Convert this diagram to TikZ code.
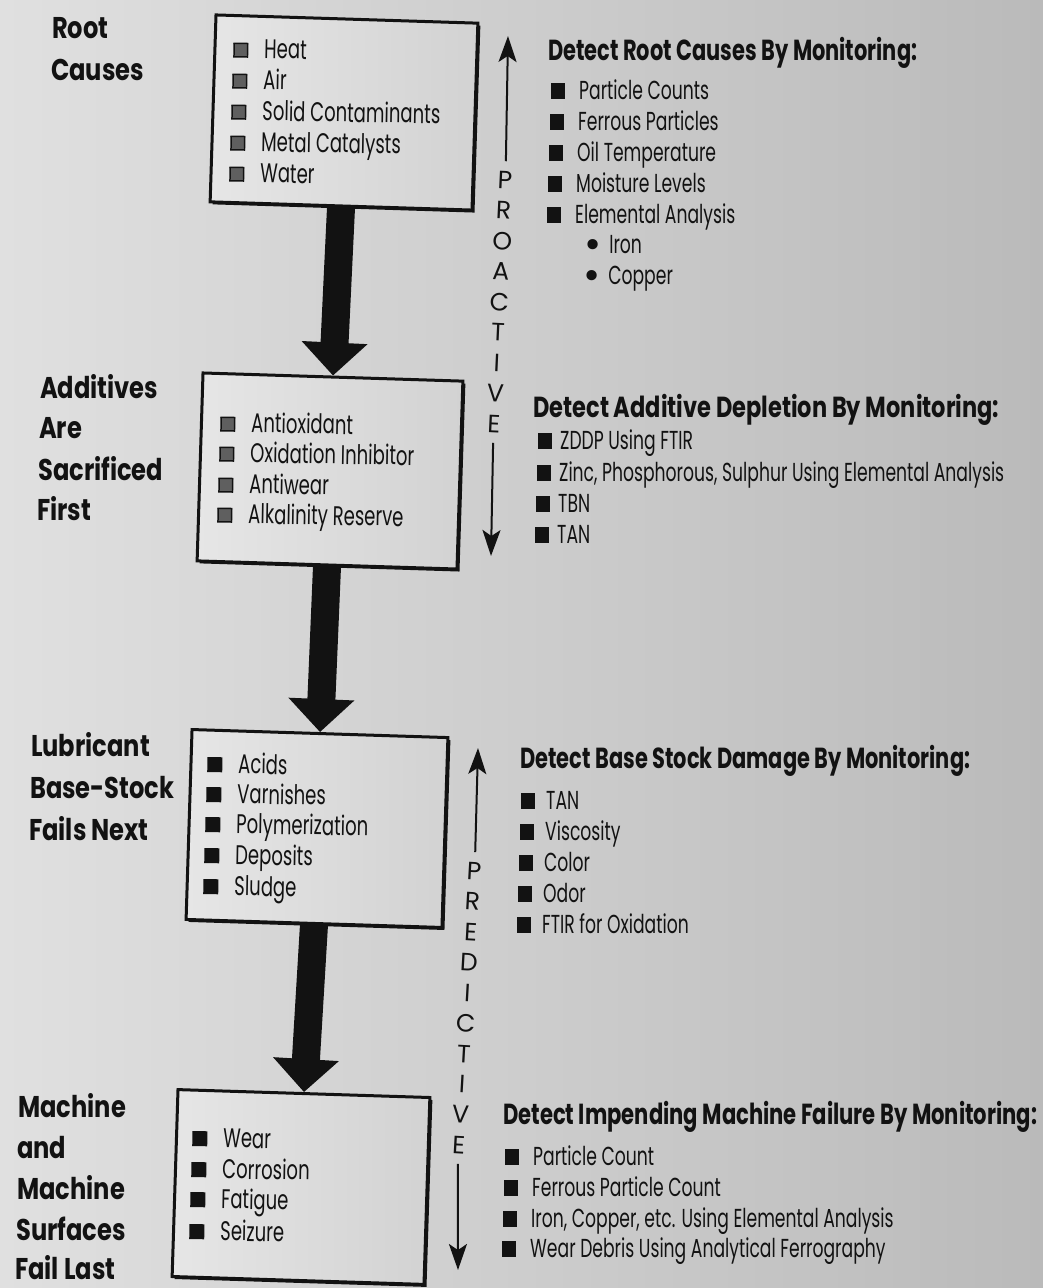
\documentclass[tikz,border=0pt]{standalone}
\usepackage{fontspec}
\usetikzlibrary{arrows.meta,shadows}
\newfontfamily\pop{Poppins}
\definecolor{bgL}{RGB}{224,224,224}
\definecolor{bgR}{RGB}{186,186,186}
\definecolor{boxL}{RGB}{230,230,230}
\definecolor{boxR}{RGB}{210,210,210}
\definecolor{sqgray}{RGB}{95,95,95}
\definecolor{ink}{RGB}{18,18,18}
\pgfdeclarelayer{back}
\pgfdeclarelayer{bg}
\pgfsetlayers{back,bg,main}
\setlength\fboxsep{0pt}
\setlength\fboxrule{1.5pt}
\newsavebox\fitbox
\newlength\fitlen
\newcommand\fitfactor[3]{\sbox\fitbox{#3}\setlength\fitlen{\wd\fitbox}\pgfmathsetmacro#1{#2/\fitlen}}
\newcommand\sqGray{\raisebox{2pt}{\fcolorbox{ink}{sqgray}{\rule{0pt}{12pt}\rule{12pt}{0pt}}}}
\newcommand\sqDark{\raisebox{1pt}{\textcolor{ink}{\rule{15pt}{15pt}}}}
\newcommand\sqRight{\textcolor{ink}{\rule{14pt}{16pt}}}
\newcommand\bigdot{\smash{\raisebox{-5pt}{\scalebox{1.6}{\textbullet}}}}
\newcommand\ttlfont{\pop\bfseries\fontsize{29}{34}\selectfont}
\newcommand\ritfont{\pop\fontsize{26}{30}\selectfont}
\begin{document}
\fitfactor{\fLab}{125}{\pop\bfseries\fontsize{30}{36}\selectfont Sacrificed}%
\fitfactor{\fTa}{369}{\ttlfont Detect Root Causes By Monitoring:}%
\fitfactor{\fTb}{466}{\ttlfont Detect Additive Depletion By Monitoring:}%
\fitfactor{\fTc}{450}{\ttlfont Detect Base Stock Damage By Monitoring:}%
\fitfactor{\fTd}{534}{\ttlfont Detect Impending Machine Failure By Monitoring:}%
\fitfactor{\fBox}{178}{\pop\fontsize{27}{30}\selectfont Solid Contaminants}%
\fitfactor{\fRit}{445}{\ritfont Zinc, Phosphorous, Sulphur Using Elemental Analysis}%
\begin{tikzpicture}[x=1pt,y=-1pt,
  lab/.style={anchor=base west, inner sep=0pt, text=ink, font=\pop\bfseries\fontsize{30}{36}\selectfont},
  ttl/.style={anchor=base west, inner sep=0pt, text=ink, font=\ttlfont},
  bitem/.style={anchor=base west, inner sep=0pt, text=ink, font=\pop\fontsize{27}{30}\selectfont, rotate=-1},
  ritem/.style={anchor=base west, inner sep=0pt, text=ink, font=\ritfont},
  stagebox/.style={draw=ink, line width=3pt, left color=boxL, right color=boxR, inner sep=0pt, rotate=-1.8,
    drop shadow={shadow xshift=2.5pt, shadow yshift=-2.5pt, fill=ink, opacity=1}},
  fat/.style={draw=ink, line width=28pt, -{Triangle[width=64pt,length=33pt]}},
  thinarr/.style={draw=ink, line width=2pt, -{Stealth[length=26pt,width=18pt,inset=6pt]}},
  vlet/.style={font=\pop\fontsize{25}{30.5}\selectfont, text=ink, align=center, inner xsep=2pt, inner ysep=10pt}]

\begin{pgfonlayer}{back}
\shade[left color=bgL, right color=bgR] (0,0) rectangle (1043,1288);
\end{pgfonlayer}
\useasboundingbox (0,0) rectangle (1043,1288);

% left labels
\foreach \t/\x/\y [count=\i] in {Root/52/38, Causes/51/80}
  \node[lab] (la\i) at (\x,\y) {\scalebox{\fLab}[1]{\t}};
\foreach \t/\x/\y [count=\i] in {Additives/40/398, Are/39/438, Sacrificed/38/480, First/37/520}
  \node[lab] (lb\i) at (\x,\y) {\scalebox{\fLab}[1]{\t}};
\foreach \t/\x/\y [count=\i] in {Lubricant/31/756, Base-Stock/30/798, Fails Next/29/840}
  \node[lab] (lc\i) at (\x,\y) {\scalebox{\fLab}[1]{\t}};
\foreach \t/\x/\y [count=\i] in {Machine/18/1117, and/17/1158, Machine/17/1199, Surfaces/16/1240, Fail Last/15/1279}
  \node[lab] (ld\i) at (\x,\y) {\scalebox{\fLab}[1]{\t}};

% stage boxes
\node[stagebox, minimum width=262pt, minimum height=187pt] (b1) at (344,112.5) {};
\node[stagebox, minimum width=260pt, minimum height=188pt] (b2) at (330,471) {};
\node[stagebox, minimum width=256pt, minimum height=190pt] (b3) at (317,828.5) {};
\node[stagebox, minimum width=252pt, minimum height=187pt] (b4) at (301,1187) {};

% fat arrows
\begin{pgfonlayer}{bg}
\draw[fat] (b1.south) -- (b2.north);
\draw[fat] (b2.south) -- (b3.north);
\draw[fat] (b3.south) -- (b4.north);
\end{pgfonlayer}

% box items
\foreach \t/\x/\y [count=\i] in {Heat/233/58, Air/232/89, Solid Contaminants/231/120, Metal Catalysts/230/151, Water/229/182}
  \node[bitem] (bi1-\i) at (\x,\y) {\sqGray\hspace{16pt}\scalebox{\fBox}[1]{\t}};
\foreach \t/\x/\y [count=\i] in {Antioxidant/220/432, Oxidation Inhibitor/219/462, Antiwear/218/493, Alkalinity Reserve/217/523}
  \node[bitem] (bi2-\i) at (\x,\y) {\sqGray\hspace{16pt}\scalebox{\fBox}[1]{\t}};
\foreach \t/\x/\y [count=\i] in {Acids/207/773, Varnishes/206/803, Polymerization/205/833, Deposits/204/864, Sludge/203/895}
  \node[bitem] (bi3-\i) at (\x,\y) {\sqDark\hspace{16pt}\scalebox{\fBox}[1]{\t}};
\foreach \t/\x/\y [count=\i] in {Wear/192/1147, Corrosion/191/1178, Fatigue/190/1208, Seizure/189/1240}
  \node[bitem] (bi4-\i) at (\x,\y) {\sqDark\hspace{16pt}\scalebox{\fBox}[1]{\t}};

% right titles
\node[ttl] (t1) at (548,60) {\scalebox{\fTa}[1]{Detect Root Causes By Monitoring:}};
\node[ttl] (t2) at (533,417) {\scalebox{\fTb}[1]{Detect Additive Depletion By Monitoring:}};
\node[ttl] (t3) at (520,768) {\scalebox{\fTc}[1]{Detect Base Stock Damage By Monitoring:}};
\node[ttl] (t4) at (503,1124) {\scalebox{\fTd}[1]{Detect Impending Machine Failure By Monitoring:}};

% right items
\foreach \t/\x/\y [count=\i] in {Particle Counts/551/99, Ferrous Particles/550/130, Oil Temperature/549/161, Moisture Levels/548/192, Elemental Analysis/547/223}
  \node[ritem] (r1-\i) at (\x,\y) {\sqRight\hspace{14pt}\scalebox{\fRit}[1]{\t}};
\node[ritem] (r1-6) at (584,253) {\bigdot\hspace{8pt}\scalebox{\fRit}[1]{Iron}};
\node[ritem] (r1-7) at (583,284) {\bigdot\hspace{8pt}\scalebox{\fRit}[1]{Copper}};
\foreach \t/\x/\y [count=\i] in {ZDDP Using FTIR/538/449, {Zinc, Phosphorous, Sulphur Using Elemental Analysis}/537/481, TBN/536/512, TAN/535/543}
  \node[ritem] (r2-\i) at (\x,\y) {\sqRight\hspace{8pt}\scalebox{\fRit}[1]{\t}};
\foreach \t/\x/\y [count=\i] in {TAN/521/809, Viscosity/520/840, Color/519/871, Odor/518/902, FTIR for Oxidation/517/933}
  \node[ritem] (r3-\i) at (\x,\y) {\sqRight\hspace{11pt}\scalebox{\fRit}[1]{\t}};
\foreach \t/\x/\y [count=\i] in {Particle Count/505/1165, Ferrous Particle Count/504/1196, {Iron, Copper, etc. Using Elemental Analysis}/503/1227, Wear Debris Using Analytical Ferrography/502/1257}
  \node[ritem] (r4-\i) at (\x,\y) {\sqRight\hspace{14pt}\scalebox{\fRit}[1]{\t}};

% proactive / predictive
\node[vlet, rotate=-2.6] (pro) at (499.5,302) {P\\R\\O\\A\\C\\T\\I\\V\\E};
\coordinate (protop) at (508,36);
\coordinate (probot) at (491,556);
\draw[thinarr] (pro.north) -- (protop);
\draw[thinarr] (pro.south) -- (probot);

\node[vlet, rotate=-3.2] (pre) at (466.5,1008) {P\\R\\E\\D\\I\\C\\T\\I\\V\\E};
\coordinate (pretop) at (478,748);
\coordinate (prebot) at (458,1270);
\draw[thinarr] (pre.north) -- (pretop);
\draw[thinarr] (pre.south) -- (prebot);
\end{tikzpicture}
\end{document}
